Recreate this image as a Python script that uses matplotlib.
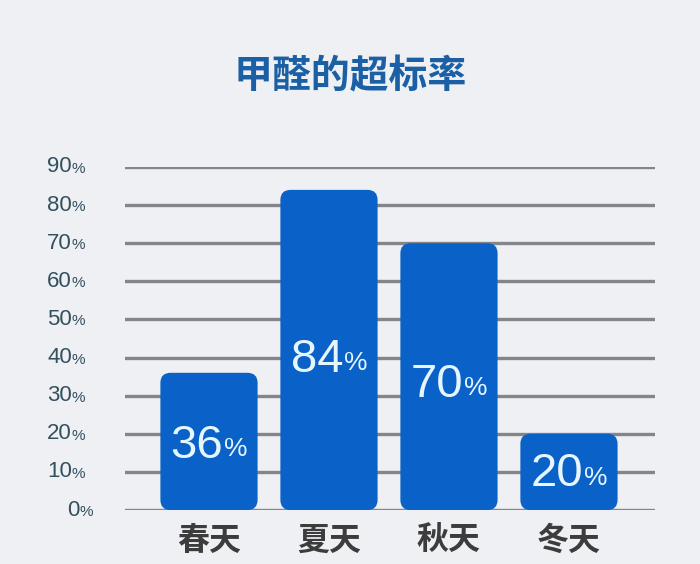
import matplotlib.pyplot as plt
from matplotlib.patches import FancyBboxPatch

plt.rcParams['font.family'] = ['Noto Sans CJK SC', 'DejaVu Sans']

title = "甲醛的超标率"
seasons = ["春天", "夏天", "秋天", "冬天"]
rates = [36, 84, 70, 20]
y_ticks = [0, 10, 20, 30, 40, 50, 60, 70, 80, 90]

bg = "#eef0f3"
bar_color = "#0a62c9"
grid_color = "#838588"
tick_color = "#34505f"
num_font = ["Liberation Sans", "DejaVu Sans"]

fig = plt.figure(figsize=(7, 5.64), dpi=100, facecolor=bg)
ax = fig.add_axes([125 / 700, 1 - 510 / 564, 530 / 700, 343 / 564])
ax.set_facecolor(bg)
ax.set_xlim(-0.7, 3.717)
ax.set_ylim(0, 90)

for y in y_ticks:
    ax.axhline(y, color=grid_color, lw=2.4, zorder=1)

width = 0.81
for i, v in enumerate(rates):
    box = FancyBboxPatch((i - width / 2, 0), width, v,
                         boxstyle="round,pad=0,rounding_size=0.085",
                         mutation_aspect=31, facecolor=bar_color,
                         edgecolor="none", zorder=2, clip_on=False)
    ax.add_patch(box)
    # value label: big number, small percent sign
    ty = v * 0.47
    ax.text(i + 0.12, ty, str(v), ha="right", va="center", fontsize=34,
            color="#e6f6ff", zorder=3, family=num_font)
    ax.text(i + 0.125, ty - 1.0, "%", ha="left", va="center", fontsize=19,
            color="#e6f6ff", zorder=3, family=num_font)

ax.set_xticks(range(len(seasons)))
ax.set_xticklabels(seasons, fontsize=23, color="#3c3c3c", fontweight="bold")
ax.tick_params(axis="x", length=0, pad=11)
ax.set_yticks([])
for y in y_ticks:
    shift = 0 if y else 8
    ax.annotate(str(y), xy=(0, y), xycoords=("axes fraction", "data"),
                xytext=(-53 + shift, 0), textcoords="offset pixels",
                ha="right", va="center", fontsize=16, color=tick_color,
                family=num_font)
    ax.annotate("%", xy=(0, y), xycoords=("axes fraction", "data"),
                xytext=(-53 + shift, -2), textcoords="offset pixels",
                ha="left", va="center", fontsize=11, color=tick_color,
                family=num_font)

for s in ax.spines.values():
    s.set_visible(False)

fig.text(0.5, 1 - 77 / 564, title, ha="center", va="center", fontsize=28,
         fontweight="bold", color="#1b5fa5")

fig.savefig("out.png", dpi=100, facecolor=bg)
